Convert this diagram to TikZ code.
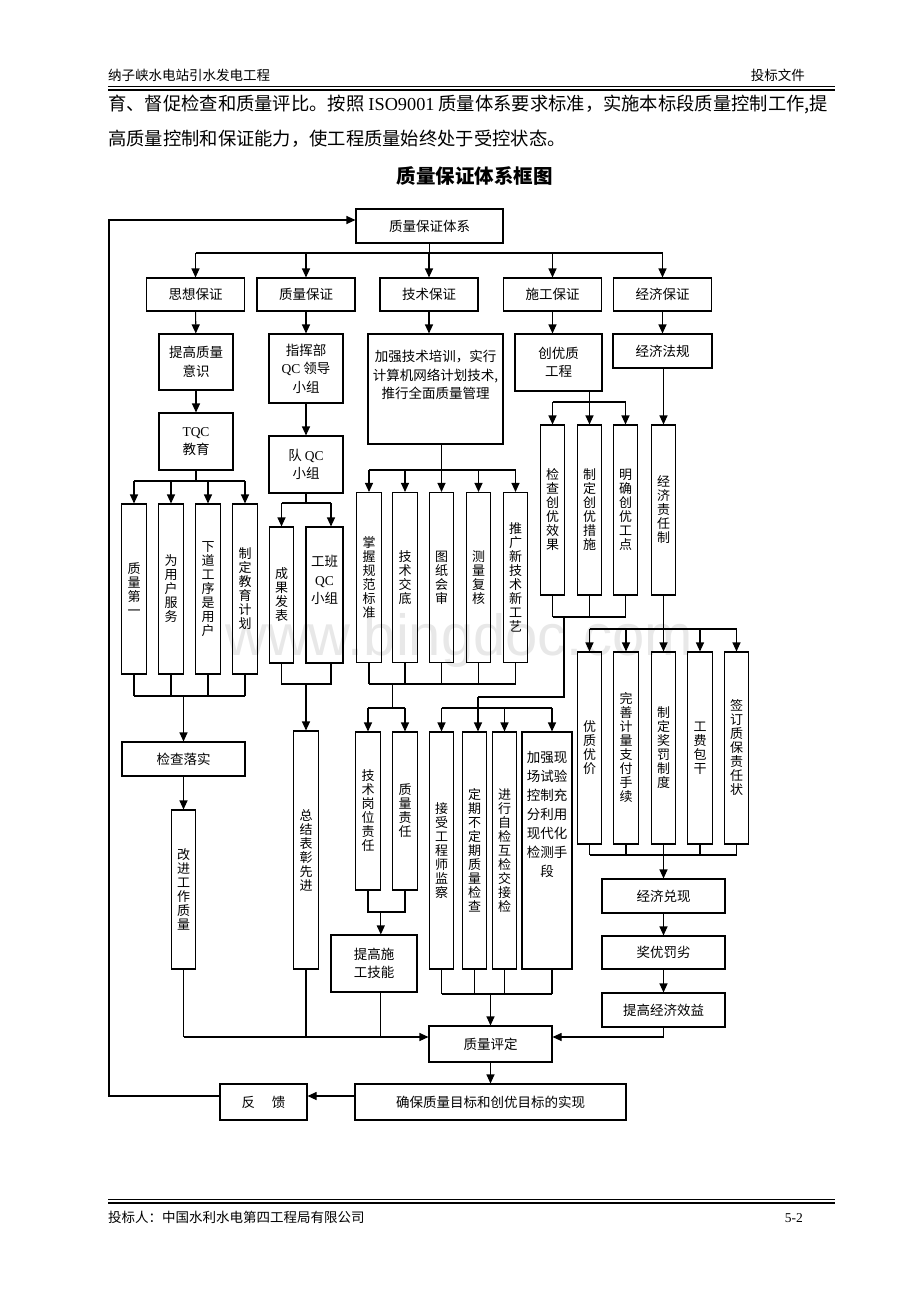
\documentclass[tikz,border=0pt]{standalone}
\usepackage{fontspec}
\setmainfont{Noto Sans CJK SC}
\newfontfamily\lat{Liberation Serif}
\newfontfamily\wm{Liberation Sans}
\usetikzlibrary{arrows.meta}

\tikzset{
    box/.style={draw, line width=1.1pt, inner sep=1pt, align=center, font=\fontsize{13.5}{18.5}\selectfont},
    vbox/.style={draw, line width=1.1pt, inner sep=0pt, minimum width=24.5pt, minimum height=170pt, align=center, font=\fontsize{13}{14}\selectfont},
    arr/.style={line width=1.1pt, -{Triangle[length=9pt,width=8pt]}},
    ln/.style={line width=1.1pt},
}

\begin{document}
\begin{tikzpicture}[x=1pt,y=-1pt]
    \useasboundingbox (0,0) rectangle (920,1302);
    % watermark
    \node[anchor=base west, inner sep=0, text=black!9, font=\wm\fontsize{58}{58}\selectfont] (wmark) at (225,655) {www.bingdoc.com};
    % page header, text, footer
    \node[anchor=base west, inner sep=0, font=\fontsize{13.5}{16}\selectfont] (hleft) at (108,80) {纳子峡水电站引水发电工程};
    \node[anchor=base east, inner sep=0, font=\fontsize{13.5}{16}\selectfont] (hright) at (805,80) {投标文件};
    \draw[line width=0.6pt] (108,86) -- (835,86);
    \draw[line width=2.4pt] (108,89.8) -- (835,89.8);
    \node[anchor=base west, inner sep=0, font=\fontsize{18.3}{22}\selectfont] (para1) at (108,110) {育、督促检查和质量评比。按照 {\lat ISO9001} 质量体系要求标准，实施本标段质量控制工作,提};
    \node[anchor=base west, inner sep=0, font=\fontsize{18.3}{22}\selectfont] (para2) at (108,145) {高质量控制和保证能力，使工程质量始终处于受控状态。};
    \node[anchor=base, inner sep=0, font=\bfseries\fontsize{19.5}{22}\selectfont] (title) at (474.5,183) {质量保证体系框图};
    \draw[line width=0.6pt] (108,1199) -- (835,1199);
    \draw[line width=2.4pt] (108,1202.8) -- (835,1202.8);
    \node[anchor=base west, inner sep=0, font=\fontsize{13.5}{16}\selectfont] (fleft) at (108,1222) {投标人：中国水利水电第四工程局有限公司};
    \node[anchor=base east, inner sep=0, font=\lat\fontsize{13.5}{16}\selectfont] (fright) at (803,1222) {5-2};

    % top and second level
    \node[box, minimum width=147pt, minimum height=34pt] (top) at (429.5,226) {质量保证体系};
    \node[box, minimum width=98pt, minimum height=33pt] (sx) at (195.5,294.5) {思想保证};
    \node[box, minimum width=98pt, minimum height=33pt] (zl) at (306,294.5) {质量保证};
    \node[box, minimum width=98pt, minimum height=33pt] (js) at (429,294.5) {技术保证};
    \node[box, minimum width=98pt, minimum height=33pt] (sg) at (552.5,294.5) {施工保证};
    \node[box, minimum width=98pt, minimum height=33pt] (jj) at (662.5,294.5) {经济保证};

    % third level
    \node[box, minimum width=74pt, minimum height=56pt] (tgys) at (196,362) {提高质量\\意识};
    \node[box, minimum width=74pt, minimum height=69pt] (zhb) at (306,368.5) {指挥部\\{\lat QC} 领导\\小组};
    \node[box, minimum width=135pt, minimum height=110pt] (jqpx) at (435.5,389) {加强技术培训，实行\\计算机网络计划技术,\\推行全面质量管理\\[10pt]};
    \node[box, minimum width=87pt, minimum height=57pt] (cyz) at (558.5,362.5) {创优质\\工程};
    \node[box, minimum width=99pt, minimum height=34pt] (jjfg) at (662.5,351) {经济法规};
    \node[box, minimum width=74pt, minimum height=57pt] (tqc) at (196,441.5) {{\lat TQC}\\教育};
    \node[box, minimum width=74pt, minimum height=57pt] (dqc) at (306,464.5) {队 {\lat QC}\\小组};

    % vertical boxes
    \node[vbox] (c1) at (134,589) {质\\量\\第\\一};
    \node[vbox] (c2) at (171,589) {为\\用\\户\\服\\务};
    \node[vbox] (c3) at (208,589) {下\\道\\工\\序\\是\\用\\户};
    \node[vbox] (c4) at (245,589) {制\\定\\教\\育\\计\\划};
    \node[vbox, minimum height=136pt] (cgfb) at (281.5,595) {成\\果\\发\\表};
    \node[box, minimum width=37pt, minimum height=136pt] (gbqc) at (324.5,595) {工班\\{\lat QC}\\小组\\[12pt]};
    \node[vbox] (t1) at (369,577.5) {掌\\握\\规\\范\\标\\准};
    \node[vbox] (t2) at (405,577.5) {技\\术\\交\\底};
    \node[vbox] (t3) at (441.5,577.5) {图\\纸\\会\\审};
    \node[vbox] (t4) at (478.5,577.5) {测\\量\\复\\核};
    \node[vbox] (t5) at (515.5,577.5) {推\\广\\新\\技\\术\\新\\工\\艺};
    \node[vbox] (s1) at (552.5,510) {检\\查\\创\\优\\效\\果};
    \node[vbox] (s2) at (589.5,510) {制\\定\\创\\优\\措\\施};
    \node[vbox] (s3) at (625.5,510) {明\\确\\创\\优\\工\\点};
    \node[vbox] (j0) at (663.5,510) {经\\济\\责\\任\\制};
    \node[vbox, minimum height=192pt] (e1) at (589.5,748) {优\\质\\优\\价};
    \node[vbox, minimum height=192pt] (e2) at (626,748) {完\\善\\计\\量\\支\\付\\手\\续};
    \node[vbox, minimum height=192pt] (e3) at (663.5,748) {制\\定\\奖\\罚\\制\\度};
    \node[vbox, minimum height=192pt] (e4) at (700,748) {工\\费\\包\\干};
    \node[vbox, minimum height=192pt] (e5) at (736.5,748) {签\\订\\质\\保\\责\\任\\状};

    % lower part
    \node[box, minimum width=123pt, minimum height=34pt] (jcls) at (183.5,759) {检查落实};
    \node[vbox, minimum height=159pt] (gjgz) at (183.5,889.5) {改\\进\\工\\作\\质\\量};
    \node[vbox, minimum height=238pt] (zjbz) at (306,850) {总\\结\\表\\彰\\先\\进};
    \node[vbox, minimum height=158pt] (gwzr) at (368,811) {技\\术\\岗\\位\\责\\任};
    \node[vbox, minimum height=158pt] (zlzr) at (405,811) {质\\量\\责\\任};
    \node[box, minimum width=86pt, minimum height=57pt] (tgsg) at (374,963.5) {提高施\\工技能};
    \node[vbox, minimum height=237pt] (q1) at (441.5,850.5) {接\\受\\工\\程\\师\\监\\察};
    \node[vbox, minimum height=237pt] (q2) at (474.5,850.5) {定\\期\\不\\定\\期\\质\\量\\检\\查};
    \node[vbox, minimum height=237pt] (q3) at (504.5,850.5) {进\\行\\自\\检\\互\\检\\交\\接\\检};
    \node[vbox, minimum width=50pt, minimum height=237pt] (q4) at (547,850.5) {};
    \node[anchor=north, inner sep=0pt, align=center, font=\fontsize{13.5}{19}\selectfont] (q4t) at (547,751) {加强现\\场试验\\控制充\\分利用\\现代化\\检测手\\段};
    \node[box, minimum width=123pt, minimum height=34pt] (jjdx) at (663.5,896) {经济兑现};
    \node[box, minimum width=123pt, minimum height=33pt] (jyfl) at (663.5,952.5) {奖优罚劣};
    \node[box, minimum width=123pt, minimum height=34pt] (tgjj) at (663.5,1010) {提高经济效益};
    \node[box, minimum width=123pt, minimum height=36pt] (zlpd) at (490.5,1044) {质量评定};
    \node[box, minimum width=271pt, minimum height=36pt] (qb) at (490.5,1102) {确保质量目标和创优目标的实现};
    \node[box, minimum width=87pt, minimum height=36pt] (fk) at (263.5,1102) {反\hspace{17pt}馈};

    % bus lines
    \coordinate (b0) at (0,253);
    \coordinate (b1) at (0,481);
    \coordinate (b2) at (0,696);
    \coordinate (b3) at (0,503);
    \coordinate (b4) at (0,684);
    \coordinate (b5) at (0,470);
    \coordinate (b6) at (0,708);
    \coordinate (b7) at (0,912);
    \coordinate (b8) at (0,402);
    \coordinate (b9) at (0,617);
    \coordinate (b11) at (0,994);
    \coordinate (b12) at (0,629);
    \coordinate (b13) at (0,855);
    \coordinate (b14) at (0,1037);
    \coordinate (b15) at (0,1096);
    \coordinate (gbt) at (331,568);
    \coordinate (sj) at (564,697);
    \coordinate (sjq) at (478,697);
    \coordinate (q4x) at (552,850);
    \coordinate (fbl) at (109,1096);
    \coordinate (fbt) at (109,220);

    % top level
    \draw[ln] (top.south) -- (top.south |- b0);
    \draw[ln] (sx.north |- b0) -- (jj.north |- b0);
    \foreach \n in {sx,zl,js,sg,jj}
        \draw[arr] (\n.north |- b0) -- (\n.north);
    \draw[arr] (sx) -- (tgys);
    \draw[arr] (zl) -- (zhb);
    \draw[arr] (js.south) -- (js.south |- jqpx.north);
    \draw[arr] (sg.south) -- (sg.south |- cyz.north);
    \draw[arr] (jj.south) -- (jj.south |- jjfg.north);
    \draw[arr] (tgys) -- (tqc);
    \draw[arr] (zhb) -- (dqc);

    % thought
    \draw[ln] (tqc.south) -- (tqc.south |- b1);
    \draw[ln] (c1.north |- b1) -- (c4.north |- b1);
    \foreach \n in {c1,c2,c3,c4}
        \draw[arr] (\n.north |- b1) -- (\n.north);
    \foreach \n in {c1,c2,c3,c4}
        \draw[ln] (\n.south) -- (\n.south |- b2);
    \draw[ln] (c1.south |- b2) -- (c4.south |- b2);
    \draw[arr] (jcls.north |- b2) -- (jcls.north);
    \draw[arr] (jcls) -- (gjgz);

    % QC
    \draw[ln] (dqc.south) -- (dqc.south |- b3);
    \draw[ln] (cgfb.north |- b3) -- (gbt |- b3);
    \draw[arr] (cgfb.north |- b3) -- (cgfb.north);
    \draw[arr] (gbt |- b3) -- (gbt |- gbqc.north);
    \draw[ln] (cgfb.south) -- (cgfb.south |- b4) -- (gbt |- b4) -- (gbt |- gbqc.south);
    \draw[arr] (zjbz.north |- b4) -- (zjbz.north);

    % technique
    \draw[arr] (jqpx.south -| t3.north) -- (t3.north);
    \draw[ln] (t1.north |- b5) -- (t5.north |- b5);
    \foreach \n in {t1,t2,t4,t5}
        \draw[arr] (\n.north |- b5) -- (\n.north);
    \foreach \n in {t1,t2,t3,t4,t5}
        \draw[ln] (\n.south) -- (\n.south |- b4);
    \draw[ln] (t1.south |- b4) -- (t5.south |- b4);
    \draw[ln] (t2.south west |- b4) -- (t2.south west |- b6);
    \draw[ln] (gwzr.north |- b6) -- (zlzr.north |- b6);
    \draw[arr] (gwzr.north |- b6) -- (gwzr.north);
    \draw[arr] (zlzr.north |- b6) -- (zlzr.north);
    \draw[ln] (gwzr.south) -- (gwzr.south |- b7) -- (zlzr.south |- b7) -- (zlzr.south);
    \draw[arr] (gwzr.south east |- b7) -- (gwzr.south east |- tgsg.north);

    % construction
    \draw[arr] (cyz.south -| s2.north) -- (s2.north);
    \draw[ln] (s1.north |- b8) -- (s3.north |- b8);
    \draw[arr] (s1.north |- b8) -- (s1.north);
    \draw[arr] (s3.north |- b8) -- (s3.north);
    \foreach \n in {s1,s2,s3}
        \draw[ln] (\n.south) -- (\n.south |- b9);
    \draw[ln] (s1.south |- b9) -- (s3.south |- b9);
    \draw[ln] (sj |- b9) -- (sj) -- (sjq);
    \draw[arr] (sjq) -- (sjq |- q2.north);
    \draw[ln] (q1.north |- b6) -- (q4x |- b6);
    \draw[arr] (q1.north |- b6) -- (q1.north);
    \draw[arr] (q3.north |- b6) -- (q3.north);
    \draw[arr] (q4x |- b6) -- (q4x |- q4.north);
    \draw[ln] (q1.south) -- (q1.south |- b11);
    \draw[ln] (q2.south) -- (q2.south |- b11);
    \draw[ln] (q3.south) -- (q3.south |- b11);
    \draw[ln] (q4x |- q4.south) -- (q4x |- b11);
    \draw[ln] (q1.south |- b11) -- (q4x |- b11);
    \draw[arr] (zlpd.north |- b11) -- (zlpd.north);

    % economy
    \draw[arr] (jjfg.south -| j0.north) -- (j0.north);
    \draw[ln] (j0.south) -- (j0.south |- b12);
    \draw[ln] (e1.north |- b12) -- (e5.north |- b12);
    \foreach \n in {e1,e2,e3,e4,e5}
        \draw[arr] (\n.north |- b12) -- (\n.north);
    \foreach \n in {e1,e2,e3,e4,e5}
        \draw[ln] (\n.south) -- (\n.south |- b13);
    \draw[ln] (e1.south |- b13) -- (e5.south |- b13);
    \draw[arr] (e3.south |- b13) -- (jjdx.north);
    \draw[arr] (jjdx) -- (jyfl);
    \draw[arr] (jyfl) -- (tgjj);
    \draw[arr] (tgjj.south) -- (tgjj.south |- b14) -- (zlpd.east |- b14);

    % evaluation and feedback
    \draw[ln] (gjgz.south) -- (gjgz.south |- b14);
    \draw[ln] (zjbz.south) -- (zjbz.south |- b14);
    \draw[ln] (gwzr.south east |- tgsg.south) -- (gwzr.south east |- b14);
    \draw[arr] (gjgz.south |- b14) -- (zlpd.west |- b14);
    \draw[arr] (zlpd) -- (qb);
    \draw[arr] (qb.west |- b15) -- (fk.east |- b15);
    \draw[arr] (fk.west |- b15) -- (fbl) -- (fbt) -- (fbt -| top.west);
\end{tikzpicture}
\end{document}
